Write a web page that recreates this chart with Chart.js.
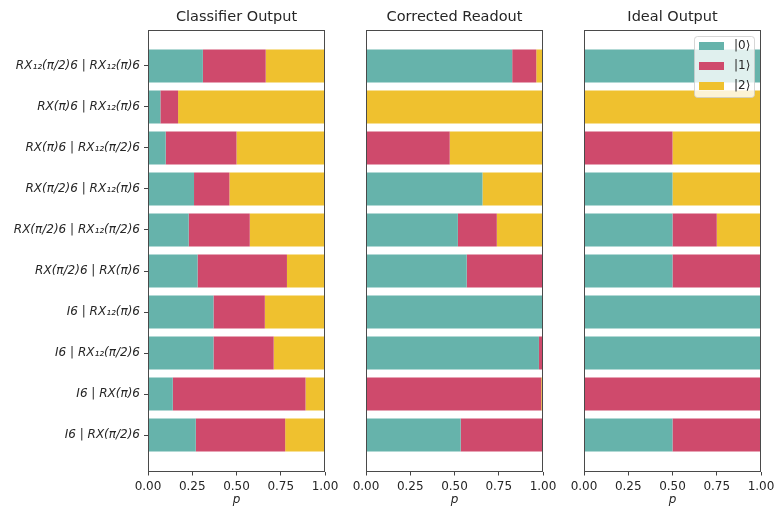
<!DOCTYPE html>
<html>
<head>
<meta charset="utf-8">
<script src="https://cdn.jsdelivr.net/npm/chart.js@4.4.0/dist/chart.umd.min.js"></script>
<style>
  html, body { margin: 0; padding: 0; background: #fff; overflow: hidden; }
  #wrap { position: relative; width: 776px; height: 507px; overflow: hidden; }
  .panel { position: absolute; top: 0; height: 507px; }
</style>
</head>
<body>
<div id="wrap">
  <div class="panel" style="left:0;width:345px"><canvas id="c1"></canvas></div>
  <div class="panel" style="left:346px;width:217px"><canvas id="c2"></canvas></div>
  <div class="panel" style="left:564px;width:215px"><canvas id="c3"></canvas></div>
</div>
<script>
/* ---------- data (rows listed top to bottom) ---------- */
const rowLabels = [
  'RX₁₂(π/2)6 | RX₁₂(π)6',
  'RX(π)6 | RX₁₂(π)6',
  'RX(π)6 | RX₁₂(π/2)6',
  'RX(π/2)6 | RX₁₂(π)6',
  'RX(π/2)6 | RX₁₂(π/2)6',
  'RX(π/2)6 | RX(π)6',
  'I6 | RX₁₂(π)6',
  'I6 | RX₁₂(π/2)6',
  'I6 | RX(π)6',
  'I6 | RX(π/2)6'
];

const stateLabels = ['|0⟩', '|1⟩', '|2⟩'];
const panelTitles = ['Classifier Output', 'Corrected Readout', 'Ideal Output'];
const xTickValues = [0, 0.25, 0.5, 0.75, 1];

const classifier0 = [0.31, 0.07, 0.10, 0.26, 0.23, 0.28, 0.37, 0.37, 0.14, 0.27];
const classifier1 = [0.355, 0.10, 0.40, 0.20, 0.345, 0.505, 0.29, 0.34, 0.75, 0.505];
const classifier2 = [0.335, 0.83, 0.50, 0.54, 0.425, 0.215, 0.34, 0.29, 0.11, 0.225];

const corrected0 = [0.826, 0, 0, 0.658, 0.519, 0.569, 1.0, 0.977, 0, 0.535];
const corrected1 = [0.136, 0, 0.473, 0, 0.22, 0.431, 0, 0.023, 0.99, 0.465];
const corrected2 = [0.038, 1.0, 0.527, 0.342, 0.261, 0, 0, 0, 0.01, 0];

const ideal0 = [1, 0, 0, 0.5, 0.5, 0.5, 1, 1, 0, 0.5];
const ideal1 = [0, 0, 0.5, 0, 0.25, 0.5, 0, 0, 1, 0.5];
const ideal2 = [0, 1, 0.5, 0.5, 0.25, 0, 0, 0, 0, 0];

const COLORS = ['#66b3ab', '#cf4a6c', '#efc12f'];
const FONT = 'DejaVu Sans';
const INK = '#262626';

/* ---------- plugins ---------- */
const framePlugin = {
  id: 'frame',
  afterDatasetsDraw(chart) {
    const { ctx, chartArea: a } = chart;
    ctx.save();
    ctx.strokeStyle = '#4a4a4a';
    ctx.lineWidth = 1;
    const l = Math.round(a.left) + 0.5, t = Math.round(a.top) + 0.5;
    const r = Math.round(a.right) - 0.5, b = Math.round(a.bottom) - 0.5;
    ctx.strokeRect(l, t, r - l, b - t);
    ctx.restore();
  }
};

const innerLegend = {
  id: 'innerLegend',
  afterDraw(chart) {
    const { ctx, chartArea: a } = chart;
    const w = 60, h = 61;
    const x = a.right - 7 - w, y = a.top + 6.5;
    ctx.save();
    ctx.beginPath();
    ctx.roundRect(x + 0.5, y + 0.5, w, h, 3);
    ctx.fillStyle = 'rgba(255,255,255,0.8)';
    ctx.fill();
    ctx.strokeStyle = 'rgba(204,204,204,0.8)';
    ctx.lineWidth = 1;
    ctx.stroke();
    ctx.font = '12px "' + FONT + '"';
    ctx.textBaseline = 'middle';
    ctx.textAlign = 'left';
    chart.data.datasets.forEach((ds, i) => {
      const cy = y + 10 + i * 20;
      ctx.fillStyle = ds.backgroundColor;
      ctx.fillRect(x + 5, cy - 4, 25, 8);
      ctx.fillStyle = INK;
      ctx.fillText(ds.label, x + 40, cy);
    });
    ctx.restore();
  }
};

/* ---------- builder ---------- */
function buildDatasets(series) {
  return series.map((values, i) => ({
    label: stateLabels[i],
    backgroundColor: COLORS[i],
    borderWidth: 0,
    categoryPercentage: 0.8,
    barPercentage: 1.0,
    data: values.map((v, r) => ({ x: v, y: r }))
  }));
}

function renderPanel(canvasId, title, series, opts) {
  const integerTicks = s => { s.ticks = rowLabels.map((_, i) => ({ value: i })); };

  return new Chart(document.getElementById(canvasId), {
    type: 'bar',
    data: { datasets: buildDatasets(series) },
    plugins: opts.legend ? [framePlugin, innerLegend] : [framePlugin],
    options: {
      indexAxis: 'y',
      responsive: true,
      maintainAspectRatio: false,
      animation: false,
      layout: { padding: { left: opts.padLeft, right: opts.padRight, top: 0, bottom: 0 } },
      plugins: {
        legend: { display: false },
        tooltip: { enabled: false },
        title: {
          display: true,
          text: title,
          fullSize: false,
          color: INK,
          font: { family: FONT, size: 14.5, weight: 'normal', lineHeight: 1.2 },
          padding: { top: 8.3, bottom: 3.8 }
        }
      },
      scales: {
        x: {
          type: 'linear',
          stacked: true,
          min: 0,
          max: 1,
          afterBuildTicks: s => { s.ticks = xTickValues.map(v => ({ value: v })); },
          afterFit: s => { s.height = 35.5; },
          border: { display: false },
          grid: { drawOnChartArea: false, drawTicks: true, tickLength: 4, color: '#444' },
          ticks: {
            color: INK,
            padding: 4,
            maxRotation: 0,
            autoSkip: false,
            font: { family: FONT, size: 12 },
            callback: v => Number(v).toFixed(2)
          },
          title: {
            display: true,
            text: 'p',
            color: INK,
            padding: { top: 0, bottom: 0 },
            font: { family: FONT, size: 12, style: 'italic' }
          }
        },
        y: {
          type: 'linear',
          stacked: true,
          reverse: true,
          offset: false,
          min: -0.89,
          max: 9.89,
          display: opts.yLabels,
          afterBuildTicks: integerTicks,
          afterFit: s => { s.width = opts.yLabels ? 148 : 0; },
          border: { display: false },
          grid: { offset: false, drawOnChartArea: false, drawTicks: true, tickLength: 4, color: '#444' },
          ticks: {
            color: INK,
            padding: 4,
            font: { family: FONT, size: 12, style: 'italic' },
            callback: v => rowLabels[v]
          }
        }
      }
    }
  });
}

renderPanel('c1', panelTitles[0], [classifier0, classifier1, classifier2],
  { yLabels: true, padLeft: 0, padRight: 20, legend: false });
renderPanel('c2', panelTitles[1], [corrected0, corrected1, corrected2],
  { yLabels: false, padLeft: 20, padRight: 20, legend: false });
renderPanel('c3', panelTitles[2], [ideal0, ideal1, ideal2],
  { yLabels: false, padLeft: 20, padRight: 18, legend: true });
</script>
</body>
</html>
